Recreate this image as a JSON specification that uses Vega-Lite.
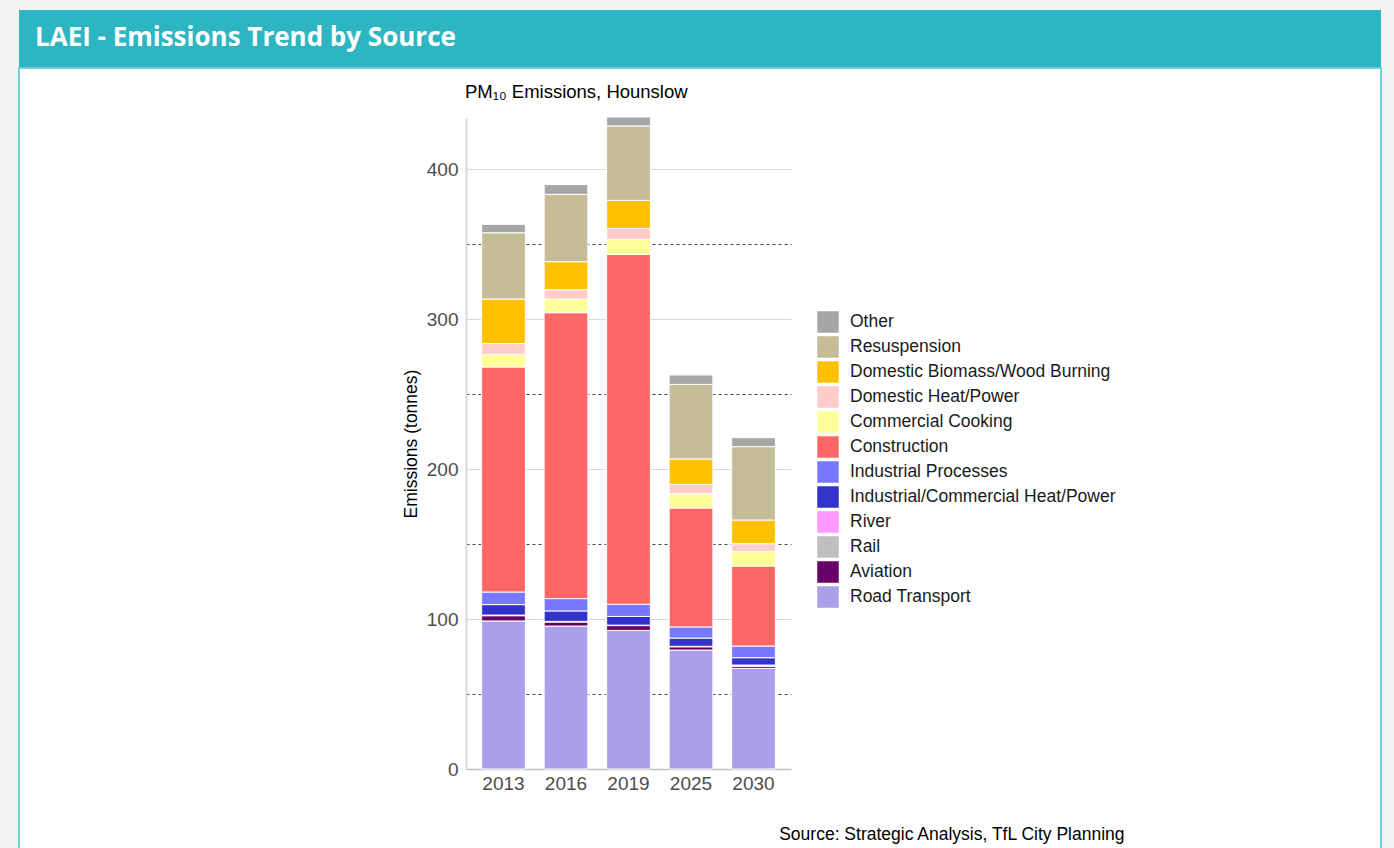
{
  "$schema": "https://vega.github.io/schema/vega-lite/v6.json",
  "background": "#f2f3f3",
  "padding": {"left": 18, "top": 10, "right": 14, "bottom": 0},
  "spacing": 0,
  "config": {"font": "Liberation Sans"},
  "vconcat": [
    {
      "width": 1362,
      "height": 57,
      "view": {"fill": "#2db6c1", "stroke": null},
      "title": {"text": "LAEI - Emissions Trend by Source", "anchor": "start", "frame": "group", "orient": "top", "offset": -62, "dx": 16, "baseline": "alphabetic", "font": "Open Sans", "fontSize": 26, "fontWeight": "bold", "color": "white"},
      "data": {"values": [{"t": ""}]},
      "mark": {"type": "text"},
      "encoding": {"text": {"field": "t"}}
    },
    {
      "width": 1362,
      "height": 781,
      "view": {"fill": "white", "stroke": "#72cfd5", "strokeWidth": 2},
      "title": {"text": "PM₁₀ Emissions, Hounslow", "anchor": "start", "frame": "group", "orient": "top", "dx": 446, "offset": -48, "baseline": "alphabetic", "fontSize": 18.5, "fontWeight": "normal", "color": "#000000", "font": "Liberation Sans"},
      "data": {"values": [
        {"year": "2013", "source": "Road Transport", "value": 98.7},
        {"year": "2013", "source": "Aviation", "value": 3.5},
        {"year": "2013", "source": "Rail", "value": 0.3},
        {"year": "2013", "source": "River", "value": 0.1},
        {"year": "2013", "source": "Industrial/Commercial Heat/Power", "value": 7.0},
        {"year": "2013", "source": "Industrial Processes", "value": 8.4},
        {"year": "2013", "source": "Construction", "value": 150.0},
        {"year": "2013", "source": "Commercial Cooking", "value": 8.4},
        {"year": "2013", "source": "Domestic Heat/Power", "value": 7.2},
        {"year": "2013", "source": "Domestic Biomass/Wood Burning", "value": 29.7},
        {"year": "2013", "source": "Resuspension", "value": 44.2},
        {"year": "2013", "source": "Other", "value": 5.6},
        {"year": "2016", "source": "Road Transport", "value": 95.3},
        {"year": "2016", "source": "Aviation", "value": 2.7},
        {"year": "2016", "source": "Rail", "value": 0.3},
        {"year": "2016", "source": "River", "value": 0.1},
        {"year": "2016", "source": "Industrial/Commercial Heat/Power", "value": 7.0},
        {"year": "2016", "source": "Industrial Processes", "value": 8.2},
        {"year": "2016", "source": "Construction", "value": 190.6},
        {"year": "2016", "source": "Commercial Cooking", "value": 9.1},
        {"year": "2016", "source": "Domestic Heat/Power", "value": 6.2},
        {"year": "2016", "source": "Domestic Biomass/Wood Burning", "value": 18.7},
        {"year": "2016", "source": "Resuspension", "value": 44.9},
        {"year": "2016", "source": "Other", "value": 6.5},
        {"year": "2019", "source": "Road Transport", "value": 92.4},
        {"year": "2019", "source": "Aviation", "value": 3.2},
        {"year": "2019", "source": "Rail", "value": 0.2},
        {"year": "2019", "source": "River", "value": 0.1},
        {"year": "2019", "source": "Industrial/Commercial Heat/Power", "value": 5.8},
        {"year": "2019", "source": "Industrial Processes", "value": 8.1},
        {"year": "2019", "source": "Construction", "value": 233.2},
        {"year": "2019", "source": "Commercial Cooking", "value": 10.1},
        {"year": "2019", "source": "Domestic Heat/Power", "value": 7.3},
        {"year": "2019", "source": "Domestic Biomass/Wood Burning", "value": 18.7},
        {"year": "2019", "source": "Resuspension", "value": 49.6},
        {"year": "2019", "source": "Other", "value": 6.0},
        {"year": "2025", "source": "Road Transport", "value": 79.3},
        {"year": "2025", "source": "Aviation", "value": 2.2},
        {"year": "2025", "source": "Rail", "value": 0.2},
        {"year": "2025", "source": "River", "value": 0.1},
        {"year": "2025", "source": "Industrial/Commercial Heat/Power", "value": 5.5},
        {"year": "2025", "source": "Industrial Processes", "value": 7.4},
        {"year": "2025", "source": "Construction", "value": 79.3},
        {"year": "2025", "source": "Commercial Cooking", "value": 9.6},
        {"year": "2025", "source": "Domestic Heat/Power", "value": 6.2},
        {"year": "2025", "source": "Domestic Biomass/Wood Burning", "value": 16.9},
        {"year": "2025", "source": "Resuspension", "value": 49.7},
        {"year": "2025", "source": "Other", "value": 6.3},
        {"year": "2030", "source": "Road Transport", "value": 67.1},
        {"year": "2030", "source": "Aviation", "value": 1.4},
        {"year": "2030", "source": "Rail", "value": 0.7},
        {"year": "2030", "source": "River", "value": 0.1},
        {"year": "2030", "source": "Industrial/Commercial Heat/Power", "value": 4.9},
        {"year": "2030", "source": "Industrial Processes", "value": 7.8},
        {"year": "2030", "source": "Construction", "value": 53.3},
        {"year": "2030", "source": "Commercial Cooking", "value": 9.6},
        {"year": "2030", "source": "Domestic Heat/Power", "value": 5.3},
        {"year": "2030", "source": "Domestic Biomass/Wood Burning", "value": 15.8},
        {"year": "2030", "source": "Resuspension", "value": 48.9},
        {"year": "2030", "source": "Other", "value": 6.0}
      ]},
      "transform": [
        {"calculate": "indexof(['Other','Resuspension','Domestic Biomass/Wood Burning','Domestic Heat/Power','Commercial Cooking','Construction','Industrial Processes','Industrial/Commercial Heat/Power','River','Rail','Aviation','Road Transport'], datum.source)", "as": "o"}
      ],
      "mark": {"type": "bar", "stroke": "white", "strokeWidth": 1},
      "encoding": {
        "x": {
          "field": "year", "type": "nominal",
          "scale": {"range": [447, 772], "paddingInner": 0.3, "paddingOuter": 0.25},
          "axis": {
            "title": "Source: Strategic Analysis, TfL City Planning",
            "titleX": 1105, "titleY": 70, "titleAlign": "right", "titleBaseline": "alphabetic", "titleAnchor": null,
            "titleFontSize": 17.5, "titleFontWeight": "normal", "titleColor": "#000000",
            "labelAngle": 0, "labelFontSize": 19, "labelColor": "#4d4d4d", "labelPadding": 5,
            "ticks": false, "tickSize": 0, "domainColor": "#bfbfbf", "domainWidth": 1.5,
            "offset": -80, "grid": false
          }
        },
        "y": {
          "field": "value", "type": "quantitative", "stack": "zero",
          "scale": {"domain": [0, 434], "range": [701, 50], "nice": false},
          "axis": {
            "title": "Emissions (tonnes)", "offset": -447,
            "values": [0, 50, 100, 150, 200, 250, 300, 350, 400],
            "labelExpr": "datum.value % 100 === 0 ? datum.label : ''",
            "grid": true,
            "gridColor": {"condition": {"test": "datum.value % 100 !== 0", "value": "#444444"}, "value": "#d9d9d9"},
            "gridDash": {"condition": {"test": "datum.value % 100 !== 0", "value": [3, 3]}, "value": []},
            "gridWidth": 1,
            "ticks": false, "tickSize": 0, "labelPadding": 8,
            "labelFontSize": 19, "labelColor": "#4d4d4d",
            "domainColor": "#d9d9d9", "domainWidth": 2,
            "titleFontSize": 17.5, "titleFontWeight": "normal", "titleColor": "#000000", "titlePadding": 6
          }
        },
        "color": {
          "field": "source", "type": "nominal",
          "scale": {
            "domain": ["Other", "Resuspension", "Domestic Biomass/Wood Burning", "Domestic Heat/Power", "Commercial Cooking", "Construction", "Industrial Processes", "Industrial/Commercial Heat/Power", "River", "Rail", "Aviation", "Road Transport"],
            "range": ["#a6a6a6", "#c4bd97", "#ffc000", "#ffcccc", "#ffff99", "#ff6666", "#7777ff", "#3333cc", "#ff99ff", "#bfbfbf", "#660066", "#aa9fe8"]
          },
          "legend": {
            "title": null, "orient": "none", "legendX": 798, "legendY": 301,
            "symbolType": "square", "symbolSize": 462, "symbolStrokeWidth": 0, "symbolOpacity": 1,
            "labelFontSize": 17.5, "labelColor": "#1a1a1a", "labelOffset": 11, "rowPadding": 3,
            "padding": 0, "labelLimit": 400
          }
        },
        "order": {"field": "o", "type": "quantitative", "sort": "descending"}
      }
    }
  ]
}
